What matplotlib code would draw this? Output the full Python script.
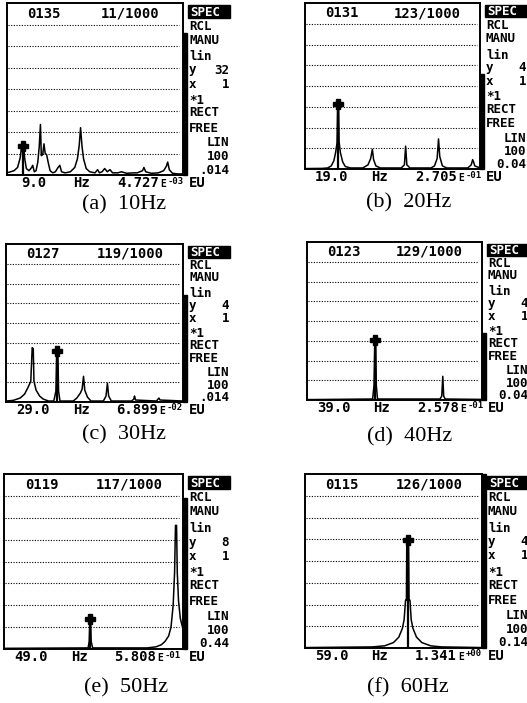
# Spectrum analyser screens at 10-60 Hz, six panels

import matplotlib.pyplot as plt
from matplotlib.patches import Rectangle

W, H = 527, 703

# ---- data (x in Hz, y in screen divisions 0..8) ----
a_x = [0, 2, 4, 6, 7.5, 8.5, 9.3, 10, 11, 12.5, 14, 14.6, 15.5, 16.5, 17.5, 18.3, 19, 19.5,
       20.3, 21, 21.7, 22.5, 23.5, 24.5, 26, 27.5, 29, 30, 31, 33, 36, 38.5, 40, 41, 41.8,
       42.6, 43.5, 45, 47, 50, 51.5, 52.5, 54, 55.5, 57, 58.5, 60, 63, 65, 68, 72, 74, 77,
       77.8, 78.8, 82, 86, 89, 90.5, 91.3, 92.2, 94, 97, 100]
a_y = [0.1, 0.15, 0.2, 0.35, 0.8, 1.45, 1.5, 0.8, 0.3, 0.2, 0.35, 0.45, 0.15, 0.2, 0.6, 1.3,
       2.35, 0.9, 0.95, 1.45, 1.0, 0.95, 0.55, 0.2, 0.1, 0.15, 0.35, 0.45, 0.15, 0.1, 0.15,
       0.35, 0.75, 1.35, 2.2, 1.35, 0.75, 0.3, 0.15, 0.1, 0.25, 0.1, 0.15, 0.3, 0.15, 0.25,
       0.1, 0.1, 0.15, 0.08, 0.1, 0.1, 0.2, 0.35, 0.15, 0.08, 0.1, 0.2, 0.4, 0.6, 0.25, 0.08,
       0.05, 0.05]

b_x = [0, 10, 13, 15, 16.5, 17.5, 18.3, 18.7, 19.2, 19.5, 20.2, 21.5, 23, 26, 33, 36, 37.5,
       38.5, 39.2, 40.5, 43, 55, 56.8, 57.5, 58.2, 60, 72, 74, 75.5, 76.3, 77, 78.5, 81, 93,
       95, 95.8, 96.5, 97, 100]
b_y = [0.02, 0.03, 0.05, 0.15, 0.4, 0.8, 1.25, 3.25, 3.25, 1.3, 0.8, 0.35, 0.12, 0.05, 0.05,
       0.2, 0.5, 0.95, 0.45, 0.15, 0.05, 0.05, 0.2, 1.1, 0.2, 0.05, 0.05, 0.15, 0.5, 1.45,
       0.6, 0.15, 0.05, 0.05, 0.2, 0.45, 0.3, 0.15, 0.05]

c_x = [0, 4, 8, 10.5, 12.5, 14, 14.8, 15.4, 15.8, 17, 19, 21, 24, 27, 28.2, 28.7, 29.3, 29.7,
       30.5, 38, 40, 42, 43, 43.8, 44.5, 46, 48, 55, 56.5, 57.3, 58, 59.5, 71, 72.2, 72.6,
       73.2, 85, 86.4, 87, 100]
c_y = [0.05, 0.08, 0.2, 0.4, 0.75, 1.05, 2.75, 2.7, 1.05, 0.6, 0.3, 0.15, 0.05, 0.05, 0.55,
       2.62, 2.62, 0.55, 0.05, 0.05, 0.2, 0.45, 0.65, 1.3, 0.6, 0.25, 0.05, 0.05, 0.3, 0.95,
       0.3, 0.05, 0.05, 0.15, 0.3, 0.1, 0.05, 0.2, 0.1, 0.05]

d_x = [0, 37.5, 38.3, 38.8, 39.3, 39.6, 40.3, 76, 77, 77.6, 78.1, 79, 100]
d_y = [0.02, 0.05, 0.75, 3.05, 3.05, 0.75, 0.05, 0.05, 0.2, 1.2, 0.2, 0.05, 0.03]

e_x = [0, 47, 47.6, 48, 48.4, 48.7, 49.5, 80, 85, 88, 90, 92, 93.3, 94.5, 95.3, 95.8, 96.4,
       96.8, 97.5, 98.5, 100]
e_y = [0.03, 0.05, 0.35, 1.35, 1.35, 0.35, 0.05, 0.05, 0.1, 0.2, 0.35, 0.6, 1.0, 2.0, 3.5,
       5.65, 5.65, 3.5, 2.2, 1.4, 0.9]

f_x = [0, 38, 45, 50, 53, 55, 56, 56.8, 57.3, 57.5, 58.5, 58.8, 59.3, 60, 61, 63, 66, 71,
       77, 100]
f_y = [0.02, 0.05, 0.1, 0.25, 0.5, 0.9, 1.3, 2.2, 2.2, 4.95, 4.95, 2.2, 2.2, 1.3, 0.9, 0.5,
       0.25, 0.1, 0.05, 0.02]

# cursor marker (x, y)
markers = [(9, 1.35), (19, 3.15), (29, 2.58), (39, 3.05), (48, 1.35), (58, 4.95)]
# level bar height in divisions
bar_tops = [6.6, 4.6, 5.4, 3.4, 6.9, 8.0]

headers = [('0135', '11/1000'), ('0131', '123/1000'), ('0127', '119/1000'),
           ('0123', '129/1000'), ('0119', '117/1000'), ('0115', '126/1000')]
y_scale = ['32', '4', '4', '4', '8', '4']
bottom_scale = ['.014', '0.04', '.014', '0.04', '0.44', '0.14']
cursor_hz = ['9.0', '19.0', '29.0', '39.0', '49.0', '59.0']
mantissa = ['4.727', '2.705', '6.899', '2.578', '5.808', '1.341']
exponent = ['-03', '-01', '-02', '-01', '-01', '+00']
captions = ['(a)  10Hz', '(b)  20Hz', '(c)  30Hz', '(d)  40Hz', '(e)  50Hz', '(f)  60Hz']

series = [(a_x, a_y), (b_x, b_y), (c_x, c_y), (d_x, d_y), (e_x, e_y), (f_x, f_y)]

# panel boxes in pixels: left, right, top, bottom ; caption centre (x, y)
boxes = [(7, 183, 3, 175), (305, 480, 3, 169), (6, 183, 244, 402),
         (307, 482, 242, 400), (4, 183, 474, 649), (305, 482, 474, 648)]
cap_pos = [(124, 205), (409, 203), (124, 435), (410, 437), (126, 688), (408, 688)]

MONO = dict(family='DejaVu Sans Mono', fontweight='bold', color='black')
FS = 10
SFS = 9

fig = plt.figure(figsize=(W / 100, H / 100), dpi=100)


def fx(x):
    return x / W


def fy(y):
    return 1 - y / H


# right-hand column, offsets (px from box top) taken from panel (a)
side_off = [9, 23, 37, 54, 67, 81, 97, 110, 125, 140, 154, 167, 180]

for i in range(6):
    l, r, t, b = boxes[i]
    h = b - t
    ax = fig.add_axes([fx(l), fy(b), (r - l) / W, h / H])
    ax.set_xlim(0, 100)
    ax.set_ylim(0, 8)
    ax.set_xticks([])
    ax.set_yticks([])
    for s in ax.spines.values():
        s.set_linewidth(1.4)
        s.set_color('black')
    for k in range(1, 8):
        ax.plot([0.8, 98], [k, k], color='black', lw=0.8, ls=(0, (1, 1.4)))

    xs, ys = series[i]
    ax.plot(xs, ys, color='black', lw=1.1)
    mx, my = markers[i]
    ax.plot([mx, mx], [0, my], color='black', lw=1.6)
    ax.plot(mx, my, marker='P', ms=6.5, color='black')

    ax.text(21, 7.5, headers[i][0], ha='center', va='center', fontsize=FS, **MONO)
    ax.text(70, 7.5, headers[i][1], ha='center', va='center', fontsize=FS, **MONO)

    # level bar
    bw = 4 / (r - l)
    ax.add_patch(Rectangle((1.0, 0), bw, bar_tops[i] / 8, transform=ax.transAxes,
                           color='black', clip_on=False))

    # side column
    sc = h / 172
    x0 = r + 6
    x1 = r + 46
    ys_ = [t + o * sc for o in side_off]
    fig.patches.append(Rectangle((fx(r + 5), fy(t + 15 * sc)), 42 / W, 13 * sc / H,
                                 transform=fig.transFigure, color='black'))
    fig.text(fx(x0 + 1), fy(ys_[0]), 'SPEC', ha='left', va='center', fontsize=SFS,
             family='DejaVu Sans Mono', fontweight='bold', color='white')
    left_items = ['RCL', 'MANU', 'lin', 'y', 'x', '*1', 'RECT', 'FREE']
    for j, txt in enumerate(left_items):
        fig.text(fx(x0), fy(ys_[j + 1]), txt, ha='left', va='center', fontsize=SFS, **MONO)
    fig.text(fx(x1), fy(ys_[4]), y_scale[i], ha='right', va='center', fontsize=SFS, **MONO)
    fig.text(fx(x1), fy(ys_[5]), '1', ha='right', va='center', fontsize=SFS, **MONO)
    fig.text(fx(x1), fy(ys_[9]), 'LIN', ha='right', va='center', fontsize=SFS, **MONO)
    fig.text(fx(x1), fy(ys_[10]), '100', ha='right', va='center', fontsize=SFS, **MONO)
    fig.text(fx(x1), fy(ys_[11]), bottom_scale[i], ha='right', va='center', fontsize=SFS,
             **MONO)
    fig.text(fx(x0), fy(b + 8), 'EU', ha='left', va='center', fontsize=FS, **MONO)

    # bottom readout
    fig.text(fx(l + 27), fy(b + 8), cursor_hz[i], ha='center', va='center', fontsize=FS,
             **MONO)
    fig.text(fx(l + 75), fy(b + 8), 'Hz', ha='center', va='center', fontsize=FS, **MONO)
    fig.text(fx(l + 152), fy(b + 8), mantissa[i], ha='right', va='center', fontsize=FS,
             **MONO)
    fig.text(fx(l + 153), fy(b + 9), 'E', ha='left', va='center', fontsize=7, **MONO)
    fig.text(fx(l + 161), fy(b + 6), exponent[i], ha='left', va='center', fontsize=6.5,
             **MONO)

    cx, cy = cap_pos[i]
    fig.text(fx(cx), fy(cy), captions[i], ha='center', va='center', fontsize=16,
             family='Liberation Serif', color='black')

fig.savefig('out.png', dpi=100)
